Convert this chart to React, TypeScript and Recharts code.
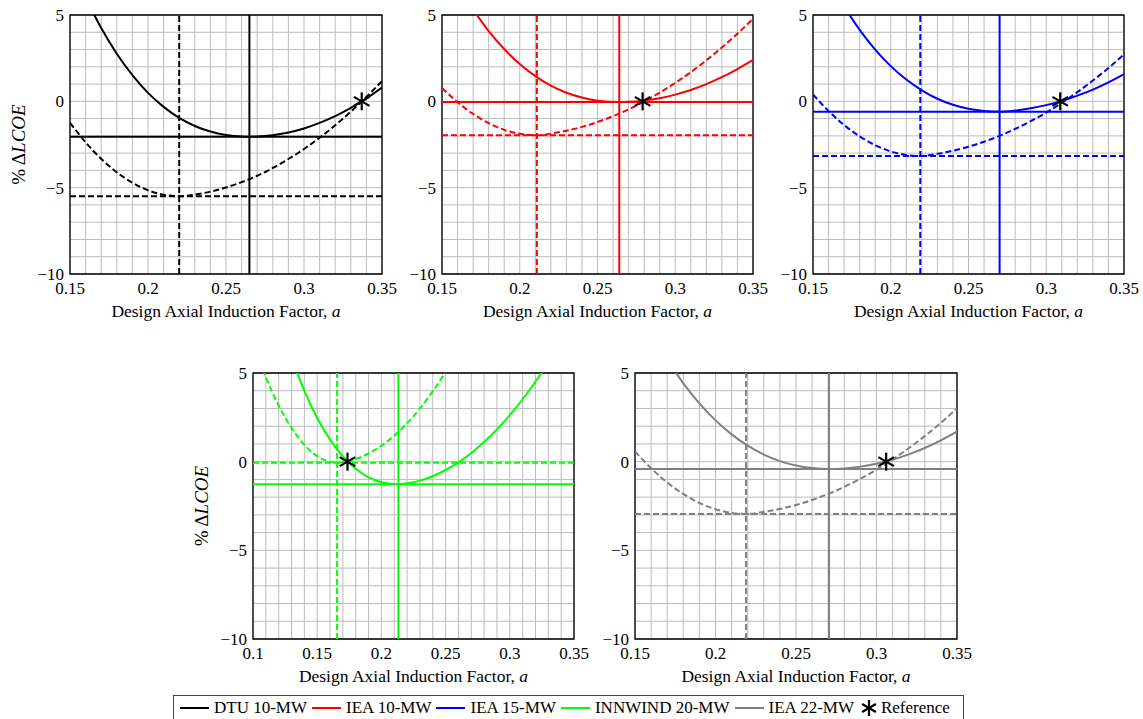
import React from 'react';
import {
  ComposedChart,
  Line,
  XAxis,
  YAxis,
  CartesianGrid,
  ReferenceLine,
  ReferenceDot,
  ReferenceArea,
  Label,
} from 'recharts';

const FONT = '"Liberation Serif", "DejaVu Serif", serif';

// axis ticks (minor every 0.01 / 1, labelled ones listed separately)
const xTicksNarrow = [0.15, 0.16, 0.17, 0.18, 0.19, 0.2, 0.21, 0.22, 0.23, 0.24, 0.25, 0.26, 0.27, 0.28, 0.29, 0.3, 0.31, 0.32, 0.33, 0.34, 0.35];
const xTicksWide = [0.1, 0.11, 0.12, 0.13, 0.14, 0.15, 0.16, 0.17, 0.18, 0.19, 0.2, 0.21, 0.22, 0.23, 0.24, 0.25, 0.26, 0.27, 0.28, 0.29, 0.3, 0.31, 0.32, 0.33, 0.34, 0.35];
const xLabelsNarrow = [0.15, 0.2, 0.25, 0.3, 0.35];
const xLabelsWide = [0.1, 0.15, 0.2, 0.25, 0.3, 0.35];
const yTicks = [-10, -9, -8, -7, -6, -5, -4, -3, -2, -1, 0, 1, 2, 3, 4, 5];
const yLabels = [-10, -5, 0, 5];

// DTU 10-MW
const dtuSolidA = [0.16, 0.17, 0.18, 0.19, 0.2, 0.21, 0.22, 0.23, 0.24, 0.25, 0.26, 0.265, 0.27, 0.28, 0.29, 0.3, 0.31, 0.32, 0.33, 0.34, 0.35];
const dtuSolidV = [6.0, 4.25, 2.76, 1.52, 0.49, -0.32, -0.96, -1.43, -1.75, -1.95, -2.04, -2.05, -2.04, -1.96, -1.8, -1.57, -1.25, -0.86, -0.38, 0.17, 0.8];
const dtuDashA = [0.15, 0.16, 0.17, 0.18, 0.19, 0.2, 0.21, 0.22, 0.23, 0.24, 0.25, 0.26, 0.27, 0.28, 0.29, 0.3, 0.31, 0.32, 0.33, 0.34, 0.35];
const dtuDashV = [-1.24, -2.37, -3.33, -4.11, -4.72, -5.15, -5.41, -5.5, -5.4, -5.23, -4.99, -4.68, -4.31, -3.86, -3.34, -2.76, -2.11, -1.39, -0.6, 0.25, 1.18];
const dtuOpt = [0.265, -2.05, 0.22, -5.5]; // solid a, solid v, dashed a, dashed v
const dtuRef = [0.337, 0];

// IEA 10-MW
const iea10SolidA = [0.17, 0.18, 0.19, 0.2, 0.21, 0.22, 0.23, 0.24, 0.25, 0.264, 0.27, 0.28, 0.29, 0.3, 0.31, 0.32, 0.33, 0.34, 0.35];
const iea10SolidV = [5.32, 4.07, 3.03, 2.16, 1.46, 0.91, 0.5, 0.22, 0.04, -0.04, -0.03, 0.04, 0.18, 0.39, 0.66, 1.0, 1.4, 1.87, 2.4];
const iea10DashA = [0.15, 0.16, 0.17, 0.18, 0.19, 0.2, 0.211, 0.22, 0.23, 0.24, 0.25, 0.26, 0.27, 0.28, 0.29, 0.3, 0.31, 0.32, 0.33, 0.34, 0.35];
const iea10DashV = [0.77, -0.05, -0.73, -1.26, -1.65, -1.88, -1.97, -1.87, -1.7, -1.48, -1.2, -0.86, -0.47, -0.01, 0.5, 1.07, 1.69, 2.38, 3.12, 3.92, 4.78];
const iea10Opt = [0.264, -0.04, 0.211, -1.97];
const iea10Ref = [0.279, 0];

// IEA 15-MW
const iea15SolidA = [0.17, 0.18, 0.19, 0.2, 0.21, 0.22, 0.23, 0.24, 0.25, 0.26, 0.27, 0.28, 0.29, 0.3, 0.31, 0.32, 0.33, 0.34, 0.35];
const iea15SolidV = [5.48, 4.14, 3.0, 2.04, 1.26, 0.64, 0.15, -0.2, -0.43, -0.56, -0.6, -0.53, -0.4, -0.22, 0.02, 0.33, 0.68, 1.1, 1.58];
const iea15DashA = [0.15, 0.16, 0.17, 0.18, 0.19, 0.2, 0.21, 0.219, 0.23, 0.24, 0.25, 0.26, 0.27, 0.28, 0.29, 0.3, 0.31, 0.32, 0.33, 0.34, 0.35];
const iea15DashV = [0.4, -0.56, -1.37, -2.03, -2.54, -2.9, -3.11, -3.17, -3.04, -2.86, -2.63, -2.34, -2.0, -1.6, -1.15, -0.65, -0.08, 0.53, 1.21, 1.93, 2.72];
const iea15Opt = [0.27, -0.6, 0.219, -3.17];
const iea15Ref = [0.309, 0];

// INNWIND 20-MW
const innSolidA = [0.13, 0.14, 0.15, 0.16, 0.17, 0.18, 0.19, 0.2, 0.2132, 0.22, 0.23, 0.24, 0.25, 0.26, 0.27, 0.28, 0.29, 0.3, 0.31, 0.32, 0.33];
const innSolidV = [5.86, 3.99, 2.46, 1.24, 0.29, -0.4, -0.88, -1.16, -1.28, -1.22, -1.07, -0.82, -0.47, -0.04, 0.49, 1.11, 1.82, 2.63, 3.52, 4.51, 5.59];
const innDashA = [0.1, 0.11, 0.12, 0.13, 0.14, 0.15, 0.16, 0.1655, 0.17, 0.18, 0.19, 0.2, 0.21, 0.22, 0.23, 0.24, 0.25, 0.26];
const innDashV = [6.63, 4.75, 3.17, 1.91, 0.95, 0.31, -0.01, -0.06, -0.02, 0.15, 0.46, 0.9, 1.47, 2.17, 3.0, 3.96, 5.06, 6.29];
const innOpt = [0.2132, -1.28, 0.1655, -0.06];
const innRef = [0.1736, 0];

// IEA 22-MW
const iea22SolidA = [0.17, 0.18, 0.19, 0.2, 0.21, 0.22, 0.23, 0.24, 0.25, 0.26, 0.2705, 0.28, 0.29, 0.3, 0.31, 0.32, 0.33, 0.34, 0.35];
const iea22SolidV = [5.73, 4.42, 3.29, 2.33, 1.54, 0.9, 0.4, 0.03, -0.22, -0.36, -0.41, -0.38, -0.28, -0.12, 0.11, 0.41, 0.77, 1.2, 1.69];
const iea22DashA = [0.15, 0.16, 0.17, 0.18, 0.19, 0.2, 0.21, 0.219, 0.23, 0.24, 0.25, 0.26, 0.27, 0.28, 0.29, 0.3, 0.31, 0.32, 0.33, 0.34, 0.35];
const iea22DashV = [0.58, -0.37, -1.17, -1.82, -2.33, -2.68, -2.89, -2.95, -2.83, -2.67, -2.44, -2.16, -1.82, -1.42, -0.96, -0.45, 0.12, 0.76, 1.44, 2.19, 3.0];
const iea22Opt = [0.2705, -0.41, 0.219, -2.95];
const iea22Ref = [0.306, 0];

const legendNames = ['DTU 10-MW', 'IEA 10-MW', 'IEA 15-MW', 'INNWIND 20-MW', 'IEA 22-MW'];
const legendColors = ['#000000', '#ff0000', '#0000ff', '#00ff00', '#808080'];

const zip = (a: number[], v: number[]) => a.map((x, i) => ({ a: x, v: v[i] }));

const hasLabel = (list: number[], t: number) => list.some((m) => Math.abs(m - t) < 1e-6);
const fmtNum = (t: number) => {
  const r = Math.round(t * 100) / 100;
  return r < 0 ? '\u2212' + Math.abs(r) : String(r);
};

const TICK_FS = 17;

const Asterisk = ({ cx, cy, r = 9 }: { cx: number; cy: number; r?: number }) => (
  <g stroke="#000" strokeWidth={2.2}>
    <line x1={cx} y1={cy - r} x2={cx} y2={cy + r} />
    <line x1={cx - r * 0.866} y1={cy - r * 0.5} x2={cx + r * 0.866} y2={cy + r * 0.5} />
    <line x1={cx - r * 0.866} y1={cy + r * 0.5} x2={cx + r * 0.866} y2={cy - r * 0.5} />
  </g>
);

const XTitle = (props: any) => {
  const vb = props.viewBox || {};
  return (
    <text x={vb.x + vb.width / 2} y={vb.y + 37} textAnchor="middle" dominantBaseline="central" fontFamily={FONT} fontSize={17.5} fill="#000">
      Design Axial Induction Factor, <tspan fontStyle="italic">a</tspan>
    </text>
  );
};

const YTitle = (props: any) => {
  const vb = props.viewBox || {};
  const x = vb.x + 18;
  const y = vb.y + vb.height / 2;
  return (
    <text x={x} y={y} transform={`rotate(-90, ${x}, ${y})`} textAnchor="middle" dominantBaseline="central" fontFamily={FONT} fontSize={19} fill="#000">
      % Δ<tspan fontStyle="italic">LCOE</tspan>
    </text>
  );
};

const makeXTick = (labels: number[]) => (p: any) => {
  const val = p.payload?.value;
  if (!hasLabel(labels, val)) return <g />;
  return (
    <text x={p.x} y={p.y} dy="0.71em" textAnchor="middle" fontFamily={FONT} fontSize={TICK_FS} fill="#000">
      {fmtNum(val)}
    </text>
  );
};

const YTick = (p: any) => {
  const val = p.payload?.value;
  if (!hasLabel(yLabels, val)) return <g />;
  return (
    <text x={p.x} y={p.y} dy="0.355em" textAnchor="end" fontFamily={FONT} fontSize={TICK_FS} fill="#000">
      {fmtNum(val)}
    </text>
  );
};

interface PanelProps {
  left: number;
  top: number;
  width: number;
  height: number;
  color: string;
  solidA: number[];
  solidV: number[];
  dashA: number[];
  dashV: number[];
  opt: number[];
  star: number[];
  xTicks: number[];
  xLabels: number[];
  yTitle?: boolean;
}

const DASH = '6 3';
const LW = 2;

const Panel = ({ left, top, width, height, color, solidA, solidV, dashA, dashV, opt, star, xTicks, xLabels, yTitle }: PanelProps) => {
  const xDomain = [xTicks[0], xTicks[xTicks.length - 1]];
  return (
    <div style={{ position: 'absolute', left, top }}>
      <ComposedChart width={width} height={height} margin={{ top: 15, right: 22, bottom: 6, left: 0 }}>
        <CartesianGrid stroke="#bcbcbc" strokeWidth={1} />
        <XAxis
          type="number"
          dataKey="a"
          domain={xDomain}
          ticks={xTicks}
          interval={0}
          allowDataOverflow
          tickLine={false}
          axisLine={false}
          tickSize={0}
          tickMargin={8}
          height={50}
          tick={makeXTick(xLabels)}
        >
          <Label content={XTitle} />
        </XAxis>
        <YAxis
          type="number"
          dataKey="v"
          domain={[-10, 5]}
          ticks={yTicks}
          interval={0}
          allowDataOverflow
          tickLine={false}
          axisLine={false}
          tickSize={0}
          tickMargin={6}
          width={70}
          tick={YTick}
        >
          {yTitle ? <Label content={YTitle} /> : null}
        </YAxis>
        <ReferenceArea x1={xDomain[0]} x2={xDomain[1]} y1={-10} y2={5} fill="none" fillOpacity={0} stroke="#000" strokeWidth={1.3} />
        <ReferenceLine x={opt[0]} stroke={color} strokeWidth={LW} />
        <ReferenceLine y={opt[1]} stroke={color} strokeWidth={LW} />
        <ReferenceLine x={opt[2]} stroke={color} strokeWidth={LW} strokeDasharray={DASH} />
        <ReferenceLine y={opt[3]} stroke={color} strokeWidth={LW} strokeDasharray={DASH} />
        <Line data={zip(solidA, solidV)} dataKey="v" type="monotone" stroke={color} strokeWidth={LW} dot={false} isAnimationActive={false} />
        <Line data={zip(dashA, dashV)} dataKey="v" type="monotone" stroke={color} strokeWidth={LW} strokeDasharray={DASH} dot={false} isAnimationActive={false} />
        <ReferenceDot x={star[0]} y={star[1]} shape={(p: any) => <Asterisk cx={p.cx} cy={p.cy} />} />
      </ComposedChart>
    </div>
  );
};

const LegendBox = () => (
  <div
    style={{
      position: 'absolute',
      left: 173,
      top: 695,
      width: 791,
      height: 28,
      border: '1px solid #444',
      boxSizing: 'border-box',
      display: 'flex',
      alignItems: 'flex-start',
      paddingLeft: 6,
      paddingTop: 2,
      fontFamily: FONT,
      fontSize: 17,
      color: '#000',
      whiteSpace: 'nowrap',
    }}
  >
    {legendNames.map((name, i) => (
      <div key={name} style={{ display: 'flex', alignItems: 'center', marginRight: 5, height: 20 }}>
        <svg width={29} height={20} style={{ marginRight: 5 }}>
          <line x1={0} y1={10} x2={29} y2={10} stroke={legendColors[i]} strokeWidth={2} />
        </svg>
        <span>{name}</span>
      </div>
    ))}
    <div style={{ display: 'flex', alignItems: 'center', height: 20 }}>
      <svg width={20} height={20} style={{ marginRight: 2 }}>
        <Asterisk cx={10} cy={10} r={8} />
      </svg>
      <span>Reference</span>
    </div>
  </div>
);

export default function App() {
  return (
    <div style={{ position: 'absolute', left: 0, top: 0, width: 1143, height: 719, overflow: 'hidden', background: '#fff' }}>
      <Panel left={0} top={0} width={404} height={330} color="#000000" solidA={dtuSolidA} solidV={dtuSolidV} dashA={dtuDashA} dashV={dtuDashV} opt={dtuOpt} star={dtuRef} xTicks={xTicksNarrow} xLabels={xLabelsNarrow} yTitle />
      <Panel left={372} top={0} width={403} height={330} color="#ff0000" solidA={iea10SolidA} solidV={iea10SolidV} dashA={iea10DashA} dashV={iea10DashV} opt={iea10Opt} star={iea10Ref} xTicks={xTicksNarrow} xLabels={xLabelsNarrow} />
      <Panel left={743} top={0} width={403} height={330} color="#0000ff" solidA={iea15SolidA} solidV={iea15SolidV} dashA={iea15DashA} dashV={iea15DashV} opt={iea15Opt} star={iea15Ref} xTicks={xTicksNarrow} xLabels={xLabelsNarrow} />
      <Panel left={183} top={358} width={413} height={337} color="#00ff00" solidA={innSolidA} solidV={innSolidV} dashA={innDashA} dashV={innDashV} opt={innOpt} star={innRef} xTicks={xTicksWide} xLabels={xLabelsWide} yTitle />
      <Panel left={565} top={358} width={414} height={337} color="#808080" solidA={iea22SolidA} solidV={iea22SolidV} dashA={iea22DashA} dashV={iea22DashV} opt={iea22Opt} star={iea22Ref} xTicks={xTicksNarrow} xLabels={xLabelsNarrow} />
      <LegendBox />
    </div>
  );
}
